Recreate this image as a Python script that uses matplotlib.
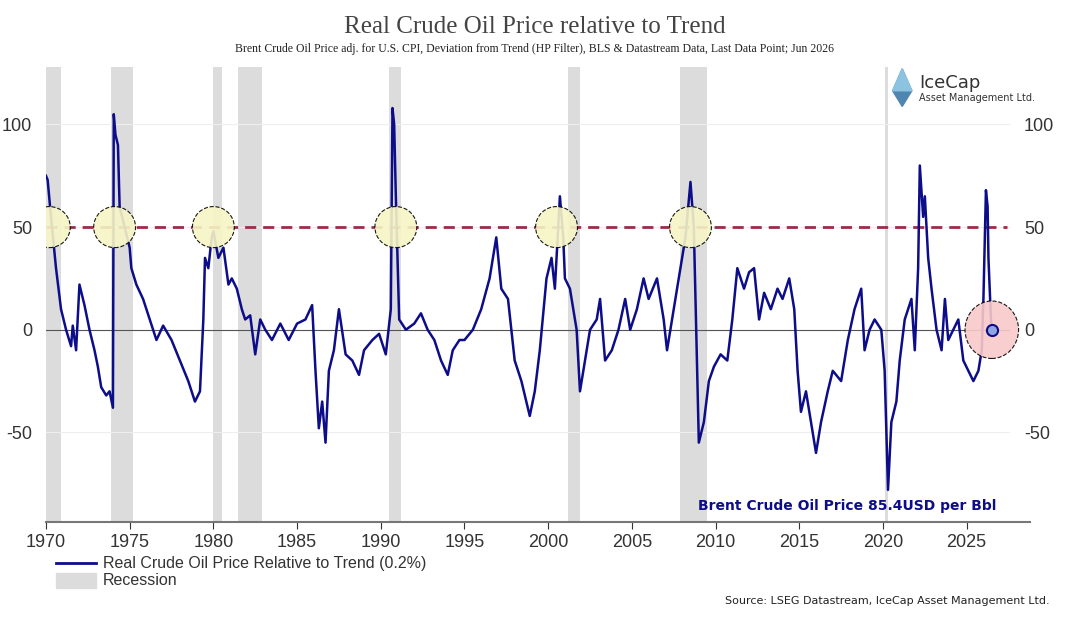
import numpy as np
import matplotlib
matplotlib.use("Agg")
import matplotlib.pyplot as plt
from matplotlib.patches import Ellipse, Polygon

plt.rcParams["axes.unicode_minus"] = False

# data: (decimal year, % deviation from trend)
years = [1970.0, 1970.1, 1970.3, 1970.6, 1970.9, 1971.2, 1971.5, 1971.6, 1971.8, 1972.0, 1972.3, 1972.6,
         1972.9, 1973.1, 1973.3, 1973.6, 1973.8, 1974.0, 1974.05, 1974.15, 1974.3, 1974.4, 1974.7, 1975.0,
         1975.1, 1975.4, 1975.8, 1976.2, 1976.6, 1977.0, 1977.5, 1978.0, 1978.5, 1978.9, 1979.2, 1979.4,
         1979.5, 1979.7, 1979.9, 1980.0, 1980.3, 1980.6, 1980.9, 1981.1, 1981.4, 1981.7, 1981.9, 1982.2,
         1982.5, 1982.8, 1983.1, 1983.5, 1984.0, 1984.5, 1985.0, 1985.5, 1985.9, 1986.1, 1986.3, 1986.5,
         1986.7, 1986.9, 1987.2, 1987.5, 1987.9, 1988.3, 1988.7, 1989.0, 1989.5, 1989.9, 1990.3, 1990.6,
         1990.7, 1990.8, 1990.9, 1991.1, 1991.5, 1992.0, 1992.4, 1992.8, 1993.2, 1993.6, 1994.0, 1994.3,
         1994.7, 1995.0, 1995.5, 1996.0, 1996.5, 1996.9, 1997.2, 1997.6, 1998.0, 1998.4, 1998.9, 1999.2,
         1999.5, 1999.9, 2000.2, 2000.4, 2000.7, 2000.9, 2001.0, 2001.3, 2001.7, 2001.9, 2002.2, 2002.5,
         2002.9, 2003.1, 2003.4, 2003.8, 2004.2, 2004.6, 2004.9, 2005.3, 2005.7, 2006.0, 2006.5, 2006.9,
         2007.1, 2007.5, 2007.9, 2008.2, 2008.5, 2008.7, 2008.9, 2009.0, 2009.3, 2009.6, 2009.9, 2010.3,
         2010.7, 2011.0, 2011.3, 2011.7, 2012.0, 2012.3, 2012.6, 2012.9, 2013.3, 2013.7, 2014.0, 2014.4,
         2014.7, 2014.9, 2015.1, 2015.4, 2015.7, 2016.0, 2016.3, 2016.7, 2017.0, 2017.5, 2017.9, 2018.3,
         2018.7, 2018.9, 2019.2, 2019.5, 2019.9, 2020.1, 2020.3, 2020.5, 2020.8, 2021.0, 2021.3, 2021.7,
         2021.9, 2022.1, 2022.2, 2022.4, 2022.5, 2022.7, 2022.9, 2023.2, 2023.5, 2023.7, 2023.9, 2024.2,
         2024.5, 2024.8, 2025.1, 2025.4, 2025.7, 2025.9, 2026.0, 2026.15, 2026.25, 2026.3, 2026.45, 2026.5]
values = [75, 73, 55, 30, 10, 0, -8, 2, -10, 22, 12, 0,
          -10, -18, -28, -32, -30, -38, 105, 95, 90, 60, 50, 40,
          30, 22, 15, 5, -5, 2, -5, -15, -25, -35, -30, 5,
          35, 30, 45, 48, 35, 40, 22, 25, 20, 10, 5, 7,
          -12, 5, 0, -5, 3, -5, 3, 5, 12, -20, -48, -35,
          -55, -20, -10, 10, -12, -15, -22, -10, -5, -2, -12, 10,
          108, 100, 65, 5, 0, 3, 8, 0, -5, -15, -22, -10,
          -5, -5, 0, 10, 25, 45, 20, 15, -15, -25, -42, -30,
          -10, 25, 35, 20, 65, 45, 25, 20, 0, -30, -15, 0,
          5, 15, -15, -10, 0, 15, 0, 10, 25, 15, 25, 5,
          -10, 10, 30, 45, 72, 50, -20, -55, -45, -25, -18, -12,
          -15, 5, 30, 20, 28, 30, 5, 18, 10, 20, 15, 25,
          10, -20, -40, -30, -45, -60, -45, -30, -20, -25, -5, 10,
          20, -10, 0, 5, 0, -20, -78, -45, -35, -15, 5, 15,
          -10, 30, 80, 55, 65, 35, 20, 0, -10, 15, -5, 0,
          5, -15, -20, -25, -20, -10, 15, 68, 60, 35, 5, 0]

recessions = [(1970.0, 1970.9), (1973.9, 1975.2), (1980.0, 1980.5), (1981.5, 1982.9),
              (1990.5, 1991.2), (2001.2, 2001.9), (2007.9, 2009.5), (2020.1, 2020.3)]
highlight_years = [1970.2, 1974.1, 1980.0, 1990.9, 2000.5, 2008.5]
threshold = 50

fig = plt.figure(figsize=(10.69, 6.26), dpi=100)
ax = fig.add_axes([0.043, 0.166, 0.902, 0.727])
navy = "#0d0d8a"

for a, b in recessions:
    ax.axvspan(a, b, color="#dcdcdc", lw=0, zorder=0)
ax.plot(years, values, color=navy, lw=1.8, zorder=3)
ax.axhline(0, color="#555555", lw=0.8, zorder=2)
ax.plot([1970, 2027.4], [threshold, threshold], color="#9b2d4a", lw=2, ls=(0, (4, 2.5)), zorder=2)

for yr in highlight_years:
    ax.add_patch(Ellipse((yr, threshold), 2.5, 20, facecolor="#f7f5c6", edgecolor="black",
                         ls="--", lw=0.8, alpha=0.9, zorder=4))
ax.add_patch(Ellipse((years[-1], values[-1]), 3.2, 28, facecolor="#f9c9c9", edgecolor="black",
                     ls="--", lw=0.8, alpha=0.9, zorder=4, clip_on=False))
ax.plot(years[-1], values[-1], "o", ms=8, mfc="#8fa6e0", mec=navy, mew=1.5, zorder=5)

ax.set_xlim(1970, 2027.6)
ax.set_ylim(-93.7, 128)
ax.set_xticks(range(1970, 2030, 5))
ax.set_yticks([-50, 0, 50, 100])
ax.grid(axis="y", color="#eeeeee", lw=0.8)
ax.tick_params(axis="x", labelsize=13, colors="#333333", length=5, direction="out")
ax.tick_params(axis="y", labelsize=13, colors="#333333", length=0, labelright=True, pad=10)
for s in ["top", "left", "right"]:
    ax.spines[s].set_visible(False)
ax.spines["bottom"].set_color("#777777")
ax.spines["bottom"].set_linewidth(1.5)
ax.spines["bottom"].set_bounds(1970, 2028.8)
for lab in ax.get_xticklabels() + ax.get_yticklabels():
    lab.set_family("Liberation Sans")

ax.text(2026.8, -86, "Brent Crude Oil Price 85.4USD per Bbl", ha="right", va="center",
        fontsize=10, color=navy, fontweight="bold", family="DejaVu Sans")

fig.text(0.5, 0.957, "Real Crude Oil Price relative to Trend", ha="center", va="center",
         fontsize=18, color="#444444", family="Liberation Serif")
fig.text(0.5, 0.922, "Brent Crude Oil Price adj. for U.S. CPI, Deviation from Trend (HP Filter), BLS & Datastream Data, Last Data Point; Jun 2026",
         ha="center", va="center", fontsize=8.5, color="#222222", family="Liberation Serif")

# legend
fig.add_artist(plt.Line2D([0.052, 0.09], [0.1, 0.1], color=navy, lw=2))
fig.text(0.096, 0.1, "Real Crude Oil Price Relative to Trend (0.2%)", va="center",
         fontsize=11.5, color="#333333", family="Liberation Sans")
fig.add_artist(plt.Rectangle((0.052, 0.061), 0.038, 0.024, color="#dcdcdc", transform=fig.transFigure))
fig.text(0.096, 0.073, "Recession", va="center", fontsize=11.5, color="#333333", family="Liberation Sans")
fig.text(0.982, 0.040, "Source: LSEG Datastream, IceCap Asset Management Ltd.", ha="right", va="center",
         fontsize=8, color="#222222", family="Liberation Sans Narrow")

# logo
fig.add_artist(Polygon([[0.844, 0.89], [0.835, 0.855], [0.844, 0.83], [0.853, 0.855]],
                       closed=True, color="#4f86b0", transform=fig.transFigure))
fig.add_artist(Polygon([[0.844, 0.89], [0.835, 0.855], [0.853, 0.855]],
                       closed=True, color="#8cc3e0", transform=fig.transFigure))
fig.text(0.86, 0.868, "IceCap", fontsize=13, color="#333333", family="Liberation Sans Narrow", va="center")
fig.text(0.86, 0.843, "Asset Management Ltd.", fontsize=7, color="#333333", family="Liberation Sans Narrow", va="center")

fig.savefig("out.png", dpi=100)
